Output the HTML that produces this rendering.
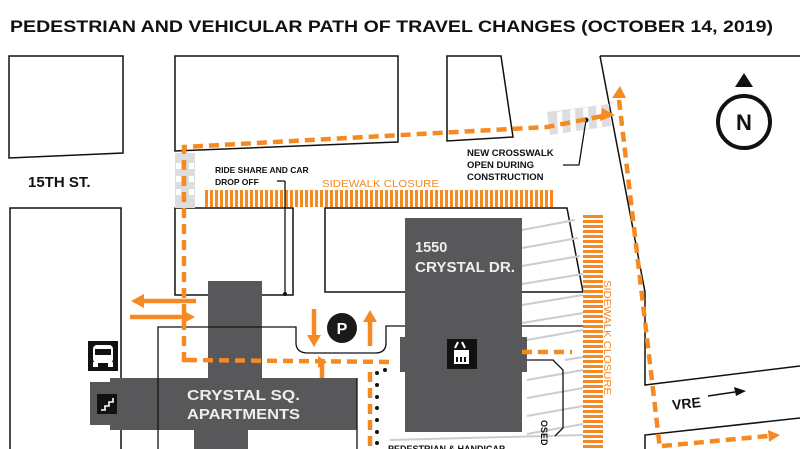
<!DOCTYPE html>
<html><head><meta charset="utf-8"><style>
html,body{margin:0;padding:0;background:#fff;overflow:hidden}
svg{display:block}
text{font-family:"Liberation Sans",sans-serif}
</style></head><body>
<svg width="800" height="449" viewBox="0 0 800 449" xmlns="http://www.w3.org/2000/svg">
<defs>
<pattern id="hv" width="5" height="10" patternUnits="userSpaceOnUse"><rect x="0" y="0" width="3" height="10" fill="#f58a23"/></pattern>
<pattern id="hh" width="10" height="5" patternUnits="userSpaceOnUse"><rect x="0" y="0" width="10" height="3" fill="#f58a23"/></pattern>
</defs>
<text x="10" y="32" font-size="17" font-weight="bold" textLength="763" lengthAdjust="spacingAndGlyphs" fill="#111">PEDESTRIAN AND VEHICULAR PATH OF TRAVEL CHANGES (OCTOBER 14, 2019)</text>

<g fill="none" stroke="#111" stroke-width="1.5">
<path d="M9 56 L123 56 L123 153 L9 158 Z"/>
<path d="M175 56 L398 56 L398 142 L175 151 Z"/>
<path d="M447 56 L501 56 L513 137 L447 141 Z"/>
<path d="M600 56 L800 56 M600 56 L645 292 L645 385 L800 366"/>
<path d="M645 449 L645 435 L800 418"/>
<path d="M10 449 L10 208 L121 208 L121 449"/>
<path d="M175 295 L175 208 L293 208 L293 295 Z"/>
<path d="M583 292 L567 208 L325 208 L325 292 L583 292"/>
</g>
<g stroke="#ccc" stroke-width="2">
<line x1="522" y1="230" x2="575" y2="220"/><line x1="522" y1="248" x2="578" y2="238"/><line x1="522" y1="266" x2="580" y2="256"/><line x1="522" y1="284" x2="583" y2="274"/>
<line x1="522" y1="305" x2="583" y2="295"/><line x1="522" y1="323" x2="583" y2="313"/><line x1="527" y1="340" x2="583" y2="330"/><line x1="565" y1="360" x2="583" y2="357"/>
<line x1="527" y1="380" x2="583" y2="370"/><line x1="527" y1="398" x2="583" y2="388"/><line x1="527" y1="416" x2="583" y2="406"/><line x1="527" y1="434" x2="583" y2="424"/>
<line x1="390" y1="440" x2="583" y2="435"/>
</g>
<rect x="175" y="153" width="20" height="55" fill="#ddd"/>
<g fill="#fff"><rect x="176" y="163" width="5" height="6"/><rect x="189" y="163" width="5" height="6"/><rect x="176" y="176" width="5" height="6"/><rect x="189" y="176" width="5" height="6"/><rect x="176" y="189" width="5" height="6"/><rect x="189" y="189" width="5" height="6"/></g>
<path d="M547 112 L609 104 L611 126 L550 135 Z" fill="#ddd"/>
<g fill="#fff"><path d="M557 112 L562 111 L563 133 L558 134Z"/><path d="M570 110 L575 109 L576 131 L571 132Z"/><path d="M583 108 L588 107 L589 129 L584 130Z"/><path d="M596 106 L601 105 L602 127 L597 128Z"/></g>

<rect x="205" y="190" width="350" height="17" fill="url(#hv)"/>
<rect x="583" y="213" width="20" height="236" fill="url(#hh)"/>
<text x="322" y="187" font-size="10.5" fill="#f58a23" textLength="117" lengthAdjust="spacingAndGlyphs">SIDEWALK CLOSURE</text>
<text transform="translate(604,280) rotate(90)" font-size="10.5" fill="#f58a23" textLength="115" lengthAdjust="spacingAndGlyphs">SIDEWALK CLOSURE</text>

<g fill="#58585a">
<rect x="208" y="281" width="54" height="100"/>
<rect x="110" y="378" width="247" height="52"/>
<rect x="194" y="428" width="54" height="21"/>
<rect x="90" y="382" width="22" height="43"/>
<rect x="405" y="218" width="117" height="214"/>
<rect x="400" y="337" width="6" height="35"/><rect x="521" y="337" width="6" height="35"/>
</g>
<text x="187" y="400" font-size="14.5" font-weight="bold" fill="#eee" textLength="113" lengthAdjust="spacingAndGlyphs">CRYSTAL SQ.</text>
<text x="187" y="419" font-size="14.5" font-weight="bold" fill="#eee" textLength="113" lengthAdjust="spacingAndGlyphs">APARTMENTS</text>
<text x="415" y="252" font-size="14.5" font-weight="bold" fill="#eee">1550</text>
<text x="415" y="272" font-size="14.5" font-weight="bold" fill="#eee" textLength="100" lengthAdjust="spacingAndGlyphs">CRYSTAL DR.</text>

<g fill="none" stroke="#111" stroke-width="1.3">
<path d="M158 449 L158 327 L296 327 L296 343 Q296 353 308 353 L375 353 Q386 353 386 343 L386 326 L405 326"/>
<path d="M522 326 L583 326"/>
<path d="M357 378 L357 449"/>
<path d="M527 360 L553 360 L563 370 L563 428 L555 436"/>
<path d="M285 181 L285 294"/><path d="M277 181 L285 181"/>
<path d="M586 120 L579 165 L563 165"/>
</g>
<circle cx="285" cy="294" r="2" fill="#111"/>
<circle cx="586" cy="120" r="2.5" fill="#111"/>

<text x="215" y="173" font-size="8.5" font-weight="bold" fill="#111">RIDE SHARE AND CAR</text>
<text x="215" y="185" font-size="8.5" font-weight="bold" fill="#111">DROP OFF</text>
<text x="467" y="156" font-size="9.5" font-weight="bold" fill="#111">NEW CROSSWALK</text>
<text x="467" y="168" font-size="9.5" font-weight="bold" fill="#111">OPEN DURING</text>
<text x="467" y="180" font-size="9.5" font-weight="bold" fill="#111">CONSTRUCTION</text>
<text x="28" y="187" font-size="15" font-weight="bold" fill="#111">15TH ST.</text>
<text x="672" y="408" font-size="14" font-weight="bold" fill="#111" transform="rotate(-6 690 403)">VRE</text>
<path d="M708 396 L735 392" stroke="#111" stroke-width="1.5"/><path d="M746 391 L734 387 L736 396 Z" fill="#111"/>
<text x="388" y="452" font-size="9" font-weight="bold" fill="#111">PEDESTRIAN &amp; HANDICAP</text>
<text transform="translate(541,420) rotate(90)" font-size="9" font-weight="bold" fill="#111">OSED</text>

<path d="M744 73 L735 87 L753 87 Z" fill="#111"/>
<circle cx="744" cy="122" r="26" fill="#fff" stroke="#111" stroke-width="4"/>
<text x="744" y="130" font-size="22" font-weight="bold" text-anchor="middle" fill="#111">N</text>

<g fill="none" stroke="#f58a23" stroke-width="4.5" stroke-dasharray="10,6">
<path d="M184 362 L184 147 L547 127 L603 116"/>
<path d="M619 100 L660 449"/>
<path d="M187 360 L395 362"/>
<path d="M522 352 L572 352"/>
<path d="M370 372 L370 449"/>
<path d="M662 446 L768 436"/>
</g>
<path d="M322 362 L322 378" stroke="#f58a23" stroke-width="4.5"/>
<path d="M182 360 L190 360" stroke="#f58a23" stroke-width="4.5"/>
<g fill="#f58a23">
<path d="M602 108 L615 115 L600 121 Z"/>
<path d="M612 98 L620 86 L626 98 Z"/>
<path d="M318 356 L327 362 L318 368 Z"/>
<path d="M768 430 L780 435 L769 442 Z"/>
</g>
<g stroke="#f58a23" stroke-width="4.5" fill="none">
<path d="M140 301 L196 301"/><path d="M130 317 L184 317"/>
<path d="M314 309 L314 337"/><path d="M370 318 L370 346"/>
</g>
<g fill="#f58a23">
<path d="M131 301 L144 294 L144 308 Z"/><path d="M195 317 L182 310 L182 324 Z"/>
<path d="M314 347 L307 335 L321 335 Z"/><path d="M370 310 L363 322 L377 322 Z"/>
</g>
<circle cx="342" cy="328" r="15" fill="#1a1a1a"/>
<text x="342" y="334" font-size="16" font-weight="bold" text-anchor="middle" fill="#fff">P</text>

<g fill="#111">
<circle cx="385" cy="370" r="2"/><circle cx="377" cy="373" r="2"/><circle cx="377" cy="385" r="2"/><circle cx="377" cy="397" r="2"/><circle cx="377" cy="408" r="2"/><circle cx="377" cy="420" r="2"/><circle cx="377" cy="432" r="2"/><circle cx="377" cy="443" r="2"/>
</g>

<rect x="88" y="341" width="30" height="30" fill="#111"/>
<rect x="93" y="345" width="20" height="18" rx="4" fill="#fff"/>
<rect x="95" y="349" width="16" height="6" fill="#111"/>
<rect x="93" y="362" width="5" height="5" fill="#fff"/><rect x="108" y="362" width="5" height="5" fill="#fff"/>
<rect x="97" y="394" width="20" height="20" fill="#111"/>
<path d="M101 410 L105 410 L105 406 L109 406 L109 402 L113 402 L113 398" stroke="#fff" stroke-width="1.6" fill="none"/>
<rect x="447" y="339" width="30" height="30" fill="#111"/>
<rect x="454" y="350" width="15" height="14" fill="#fff"/>
<path d="M455 348 L458 342 M462 342 L465 348" stroke="#fff" stroke-width="2"/>
<g fill="#111"><rect x="456" y="357" width="2" height="5"/><rect x="460" y="357" width="2" height="5"/><rect x="464" y="357" width="2" height="5"/></g>
</svg>
</body></html>
